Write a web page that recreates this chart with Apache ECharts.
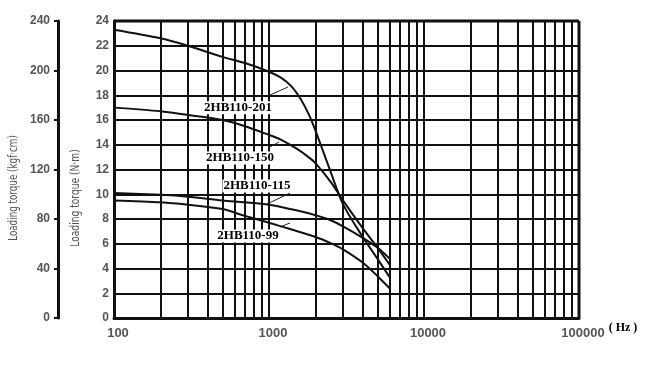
<!DOCTYPE html>
<html><head><meta charset="utf-8">
<script src="https://cdn.jsdelivr.net/npm/echarts@6/dist/echarts.min.js"></script>
<style>html,body{margin:0;padding:0;background:#fff}#c{width:650px;height:369px}</style>
</head><body><div id="c"></div>
<script>
// ---- data ----
const freq201 = [100,200,300,500,700,1000,1200,1400,1600,1800,2000,2500,3000,4000,5000,6000];
const torque201 = [23.3,22.6,22.0,21.1,20.6,19.9,19.4,18.7,17.7,16.5,15.1,11.8,9.2,6.6,4.8,3.3];
const freq150 = [100,200,300,500,700,1000,1200,1500,1800,2000,2500,3000,4000,5000,6000];
const torque150 = [17.0,16.7,16.4,16.0,15.5,14.8,14.4,13.7,13.0,12.5,11.0,9.5,7.3,5.7,4.3];
const freq115 = [100,200,300,500,700,1000,1500,2000,2500,3000,4000,5000,6000];
const torque115 = [10.1,9.95,9.8,9.5,9.35,9.15,8.7,8.3,7.9,7.4,6.5,5.7,4.8];
const freq99 = [100,200,300,500,700,1000,1400,2000,2500,3000,4000,5000,6000];
const torque99 = [9.5,9.35,9.15,8.8,8.25,7.7,7.15,6.55,6.05,5.55,4.5,3.4,2.4];
const seriesNames = ['2HB110-201','2HB110-150','2HB110-115','2HB110-99'];
// label anchor (Hz, N·m) and leader line endpoints
const labelPos = [[631,17.0],[650,12.93],[837,10.67],[732,6.63]];
const leaderFrom = [[985,17.94],[985,13.74],[971,9.21],[1178,7.35]];
const leaderTo = [[1327,18.67],[1160,14.22],[1366,10.1],[1366,7.68]];
// tick labels
const xTicks = [100,1000,10000,100000];
const minorGrid = [200,300,400,500,600,700,800,900,2000,3000,4000,5000,6000,7000,8000,9000,20000,30000,40000,50000,60000,70000,80000,90000];
const nmMax = 24, nmStep = 2, kgfMax = 240, kgfStep = 40;

const zip = (a,b)=>a.map((x,i)=>[x,b[i]]);
const curves = [zip(freq201,torque201),zip(freq150,torque150),zip(freq115,torque115),zip(freq99,torque99)];

const chart = echarts.init(document.getElementById('c'));
const lineCol = '#111';
const tickFont = {color:'#555', fontFamily:'Liberation Sans, Arial, sans-serif', fontSize:12, fontWeight:'bold'};
const nameFont = 'DejaVu Sans Condensed, sans-serif';

const series = curves.map((d,i)=>({
  name: seriesNames[i], type:'line', data:d, smooth:0.3,
  symbol:'none', lineStyle:{color:lineCol,width:2}, silent:true, z:5,
  markPoint:{
    symbol:'circle', symbolSize:0, silent:true,
    label:{show:true, position:'inside', formatter:seriesNames[i], color:'#000',
      fontFamily:'Liberation Serif, Times New Roman, serif', fontWeight:'bold', fontSize:13,
      backgroundColor:'#fff', padding:[0,1]},
    data:[{coord:labelPos[i]}]
  },
  markLine:{
    symbol:'none', silent:true, label:{show:false},
    lineStyle:{color:'#222',width:1,type:'solid'},
    data:[[{coord:leaderFrom[i]},{coord:leaderTo[i]}]]
  }
}));
// minor vertical grid lines
series.push({
  type:'line', data:[], silent:true, z:1,
  markLine:{symbol:'none', silent:true, label:{show:false}, animation:false,
    lineStyle:{color:lineCol,width:2,type:'solid'},
    data:minorGrid.map(v=>({xAxis:v}))}
});

chart.setOption({
  animation:false,
  grid:{left:114,right:71,top:21,bottom:51},
  xAxis:{type:'log', logBase:10, min:xTicks[0], max:xTicks[xTicks.length-1],
    axisLine:{show:true,lineStyle:{color:lineCol,width:3}},
    axisTick:{show:false},
    axisLabel:Object.assign({}, tickFont, {margin:9, fontSize:13, padding:[0,0,0,8], showMinLabel:true, showMaxLabel:true,
      formatter:v=>String(Math.round(v))}),
    splitLine:{show:true,lineStyle:{color:lineCol,width:2}}
  },
  yAxis:[
    {type:'value', min:0, max:nmMax, interval:nmStep, position:'left',
      axisLine:{show:true,lineStyle:{color:lineCol,width:3}},
      axisTick:{show:false},
      axisLabel:Object.assign({margin:5},tickFont),
      splitLine:{show:true,lineStyle:{color:lineCol,width:2}}
    },
    {type:'value', min:0, max:kgfMax, interval:kgfStep, position:'left', offset:56,
      axisLine:{show:true,lineStyle:{color:'#111',width:3}},
      axisTick:{show:true,inside:false,length:4,lineStyle:{color:'#111',width:2}},
      axisLabel:Object.assign({margin:8},tickFont),
      splitLine:{show:false}
    }
  ],
  graphic:[
    {type:'line', shape:{x1:579,y1:21,x2:579,y2:318}, style:{stroke:lineCol,lineWidth:3}, z:10},
    {type:'line', shape:{x1:114,y1:21,x2:579,y2:21}, style:{stroke:lineCol,lineWidth:3}, z:10},
    {type:'text', x:14, y:188, rotation:Math.PI/2, scaleX:0.75,
      style:{text:'Loading torque (kgf·cm)', fill:'#555', fontSize:13,
        fontFamily:nameFont, align:'center', verticalAlign:'middle'}},
    {type:'text', x:76, y:198, rotation:Math.PI/2, scaleX:0.78,
      style:{text:'Loading torque (N·m)', fill:'#555', fontSize:13,
        fontFamily:nameFont, align:'center', verticalAlign:'middle'}},
    {type:'text', x:623, y:328,
      style:{text:'( Hz )', fill:'#000', fontSize:12, fontWeight:'bold',
        fontFamily:'Liberation Serif, Times New Roman, serif', align:'center', verticalAlign:'middle'}}
  ],
  series:series
});
</script></body></html>
